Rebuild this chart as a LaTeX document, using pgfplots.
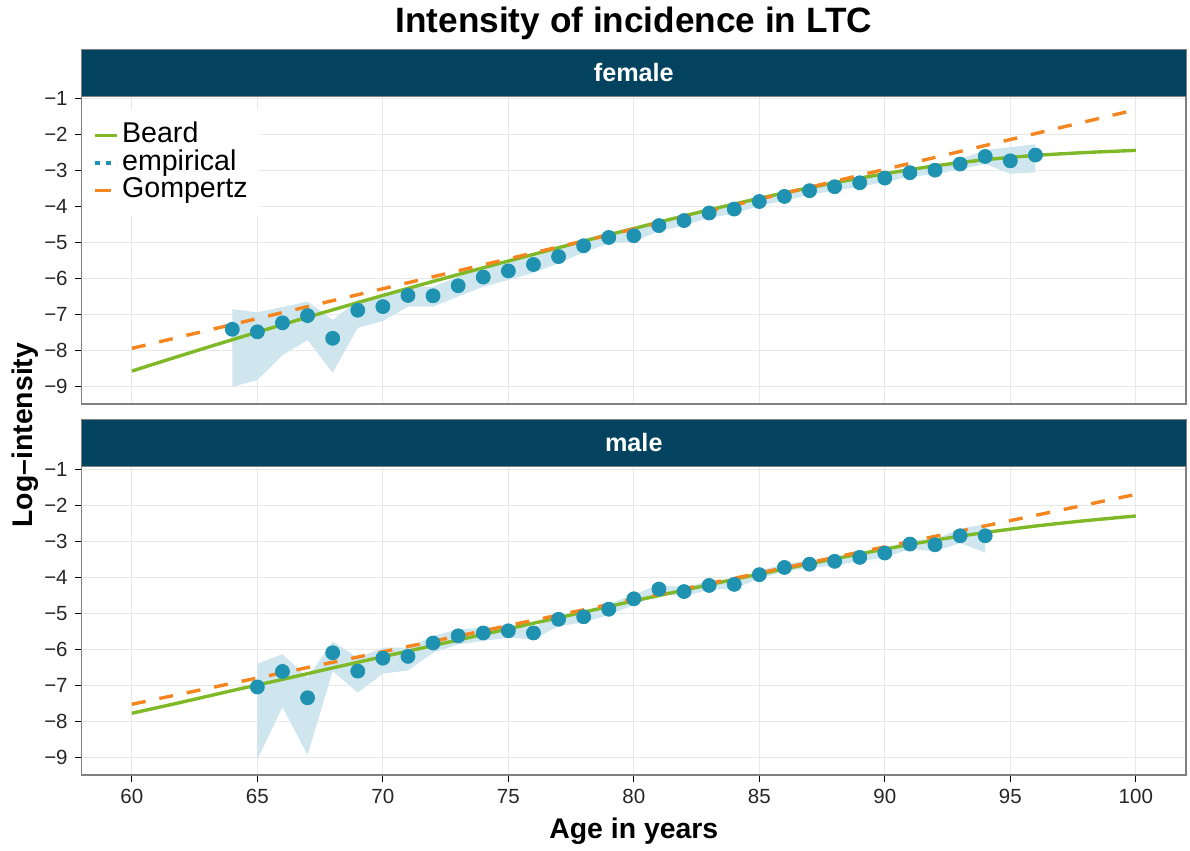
\documentclass[border=0pt]{standalone}
\usepackage{fontspec}
\setmainfont{Liberation Sans}
\usepackage{pgfplots}
\usepackage{pgfplotstable}
\pgfplotsset{compat=1.18}

\definecolor{stripcol}{RGB}{3,67,95}
\definecolor{ptcol}{RGB}{30,146,176}
\definecolor{ribcol}{RGB}{208,230,238}
\definecolor{beardcol}{RGB}{128,185,40}
\definecolor{gompcol}{RGB}{245,134,31}
\definecolor{gridcol}{RGB}{232,232,232}
\definecolor{bordercol}{RGB}{128,128,128}

% empirical female: x, estimate
\pgfplotstableread{
x y
64 -7.42
65 -7.49
66 -7.24
67 -7.04
68 -7.67
69 -6.89
70 -6.79
71 -6.48
72 -6.49
73 -6.21
74 -5.97
75 -5.80
76 -5.62
77 -5.40
78 -5.10
79 -4.87
80 -4.82
81 -4.54
82 -4.40
83 -4.19
84 -4.08
85 -3.87
86 -3.73
87 -3.57
88 -3.46
89 -3.35
90 -3.22
91 -3.07
92 -3.00
93 -2.83
94 -2.62
95 -2.74
96 -2.58
}\fem

% female confidence band: upper edge left to right, then lower edge right to left
\pgfplotstableread{
x y
64 -6.86
65 -6.95
66 -6.80
67 -6.65
68 -7.16
69 -6.61
70 -6.53
71 -6.24
72 -6.24
73 -5.96
74 -5.72
75 -5.56
76 -5.40
77 -5.20
78 -4.93
79 -4.71
80 -4.66
81 -4.40
82 -4.26
83 -4.06
84 -3.95
85 -3.75
86 -3.62
87 -3.46
88 -3.35
89 -3.24
90 -3.11
91 -2.96
92 -2.88
93 -2.70
94 -2.44
95 -2.36
96 -2.28
96 -3.06
95 -3.10
94 -2.83
93 -2.97
92 -3.12
91 -3.18
90 -3.33
89 -3.46
88 -3.57
87 -3.68
86 -3.85
85 -3.99
84 -4.21
83 -4.32
82 -4.54
81 -4.69
80 -4.99
79 -5.04
78 -5.28
77 -5.59
76 -5.85
75 -6.05
74 -6.24
73 -6.51
72 -6.79
71 -6.79
70 -7.19
69 -7.38
68 -8.63
67 -7.72
66 -8.14
65 -8.83
64 -9.02
}\femband

% empirical male
\pgfplotstableread{
x y
65 -7.05
66 -6.62
67 -7.35
68 -6.10
69 -6.61
70 -6.25
71 -6.20
72 -5.83
73 -5.63
74 -5.55
75 -5.49
76 -5.55
77 -5.17
78 -5.10
79 -4.89
80 -4.60
81 -4.33
82 -4.40
83 -4.23
84 -4.20
85 -3.93
86 -3.73
87 -3.64
88 -3.56
89 -3.45
90 -3.33
91 -3.08
92 -3.10
93 -2.85
94 -2.85
}\mal

% male confidence band
\pgfplotstableread{
x y
65 -6.40
66 -6.14
67 -6.79
68 -5.79
69 -6.24
70 -5.96
71 -5.96
72 -5.63
73 -5.45
74 -5.40
75 -5.37
76 -5.40
77 -5.03
78 -4.98
79 -4.75
80 -4.48
81 -4.21
82 -4.28
83 -4.11
84 -4.09
85 -3.82
86 -3.63
87 -3.54
88 -3.46
89 -3.35
90 -3.22
91 -2.96
92 -2.95
93 -2.65
94 -2.53
94 -3.32
93 -3.05
92 -3.28
91 -3.22
90 -3.45
89 -3.56
88 -3.67
87 -3.75
86 -3.84
85 -4.04
84 -4.32
83 -4.35
82 -4.53
81 -4.47
80 -4.77
79 -5.05
78 -5.26
77 -5.36
76 -5.73
75 -5.68
74 -5.77
73 -5.87
72 -6.10
71 -6.59
70 -6.68
69 -7.21
68 -6.61
67 -8.94
66 -7.61
65 -9.06
}\malband

% fitted curves: x, Beard female, Beard male
\pgfplotstableread{
x bf bm
60 -8.58 -7.78
62 -8.14 -7.47
64 -7.71 -7.15
66 -7.29 -6.84
68 -6.88 -6.52
70 -6.48 -6.21
72 -6.09 -5.90
74 -5.71 -5.59
76 -5.34 -5.28
78 -4.97 -4.97
80 -4.62 -4.66
82 -4.27 -4.36
84 -3.94 -4.06
86 -3.63 -3.77
88 -3.35 -3.49
90 -3.10 -3.22
92 -2.88 -2.97
94 -2.71 -2.76
96 -2.59 -2.58
98 -2.51 -2.43
100 -2.45 -2.30
}\beard

% Gompertz (log-linear): x, female, male
\pgfplotstableread{
x gf gm
60 -7.95 -7.53
100 -1.32 -1.70
}\gomp

\pgfplotsset{
  panel/.style={
    scale only axis, width=552.15pt, height=154.25pt,
    xmin=58, xmax=102, ymin=-9.5, ymax=-0.93,
    axis line style={bordercol, line width=0.7pt},
    grid=major, major grid style={gridcol, line width=0.6pt},
    tick align=outside, tick pos=left,
    major tick length=3.5pt,
    major tick style={black, line width=0.6pt},
    xtick={60,65,...,100},
    ytick={-9,-8,...,-1},
    yticklabels={−9,−8,−7,−6,−5,−4,−3,−2,−1},
    /pgf/number format/assume math mode=true,
    tick label style={font=\fontsize{10.25}{12}\selectfont, text=black!85},
  },
}

\begin{document}
\begin{tikzpicture}

% female panel
\begin{axis}[panel, at={(40.85pt,220.5pt)}, anchor=south west,
  xticklabels={}, xtick pos=right,
  legend image code/.code={\draw[#1] (0pt,0pt) -- (11pt,0pt);},
  legend style={at={(0,0.956)}, anchor=north west, draw=none, fill=white,
    font=\fontsize{14.3}{16}\selectfont, inner xsep=5.3pt, inner ysep=6pt,
    row sep=0pt, column sep=1.2pt,
    nodes={inner sep=0.5pt, text height=10pt, text depth=2.8pt}},
  legend cell align=left]
\addplot[fill=ribcol, draw=none, forget plot] table[x=x, y=y] {\femband};
\addplot[beardcol, line width=1.7pt, smooth] table[x=x, y=bf] {\beard};
\addlegendentry{Beard}
\addplot[ptcol, line width=2pt, draw opacity=0, dash pattern=on 2.5pt off 3pt,
  legend image post style={draw opacity=1}] table[x=x, y=y] {\fem};
\addlegendentry{empirical}
\addplot[gompcol, line width=1.7pt, dash pattern=on 7pt off 7pt,
  legend image post style={dash pattern=on 8pt off 8pt}] table[x=x, y=gf] {\gomp};
\addlegendentry{Gompertz}
\addplot[only marks, mark=*, mark size=3.5pt, ptcol, forget plot] table[x=x, y=y] {\fem};
\end{axis}

% male panel
\begin{axis}[panel, at={(40.85pt,35pt)}, anchor=south west]
\addplot[fill=ribcol, draw=none] table[x=x, y=y] {\malband};
\addplot[beardcol, line width=1.7pt, smooth] table[x=x, y=bm] {\beard};
\addplot[gompcol, line width=1.7pt, dash pattern=on 7pt off 7pt] table[x=x, y=gm] {\gomp};
\addplot[only marks, mark=*, mark size=3.5pt, ptcol] table[x=x, y=y] {\mal};
\end{axis}

% strips
\fill[stripcol, draw=bordercol, line width=0.5pt] (40.85pt,374.5pt) rectangle (593pt,398pt);
\fill[stripcol, draw=bordercol, line width=0.5pt] (40.85pt,189.5pt) rectangle (593pt,212.85pt);
\node[anchor=base, text=white, font=\bfseries\fontsize{12.6}{14}\selectfont] at (316.9pt,382pt) {female};
\node[anchor=base, text=white, font=\bfseries\fontsize{12.6}{14}\selectfont] at (316.9pt,196.9pt) {male};

% title and axis labels
\node[anchor=base, font=\bfseries\fontsize{17.6}{20}\selectfont] at (316.9pt,406.5pt) {Intensity of incidence in LTC};
\node[anchor=base, font=\bfseries\fontsize{14.2}{16}\selectfont] at (316.9pt,3.5pt) {Age in years};
\node[rotate=90, font=\bfseries\fontsize{14.2}{16}\selectfont] at (12.5pt,205pt) {Log–intensity};
\path (0,0) rectangle (595pt,422.5pt);
\end{tikzpicture}
\end{document}
